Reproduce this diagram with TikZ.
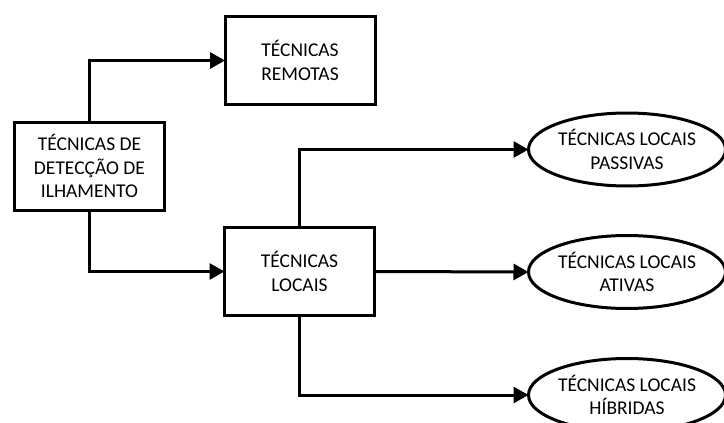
\documentclass[tikz,border=0pt]{standalone}
\usepackage{fontspec}
\setmainfont{Carlito}
\usetikzlibrary{arrows.meta,shapes.geometric}
\begin{document}
\begin{tikzpicture}[x=1pt,y=-1pt,
  every node/.style={font=\fontsize{19.5pt}{23.5pt}\selectfont, align=center, inner sep=0pt, outer sep=0pt},
  box/.style={draw, line width=3pt, minimum width=150pt, minimum height=88pt},
  oval/.style={ellipse, draw, line width=3pt, minimum width=197pt, minimum height=73pt},
  conn/.style={line width=3pt, -{Triangle[length=15pt,width=16pt]}}
]
\useasboundingbox (0,0) rectangle (724,423);
\node[box] (det) at (89.5,166) {TÉCNICAS DE\\DETECÇÃO DE\\ILHAMENTO};
\node[box] (rem) at (300,60.5) {TÉCNICAS\\REMOTAS};
\node[box] (loc) at (299.5,271.5) {TÉCNICAS\\LOCAIS};
\node[oval] (e1) at (627,149.5) {TÉCNICAS LOCAIS\\PASSIVAS};
\node[oval] (e2) at (627,272) {TÉCNICAS LOCAIS\\ATIVAS};
\node[oval] (e3) at (627,395) {TÉCNICAS LOCAIS\\HÍBRIDAS};
\draw[conn] (det.north) |- (rem.west);
\draw[conn] (det.south) |- (loc.west);
\draw[conn] (loc.north) |- (e1.west);
\draw[conn] (loc.east) -- (e2.west);
\draw[conn] (loc.south) |- (e3.west);
\end{tikzpicture}
\end{document}
